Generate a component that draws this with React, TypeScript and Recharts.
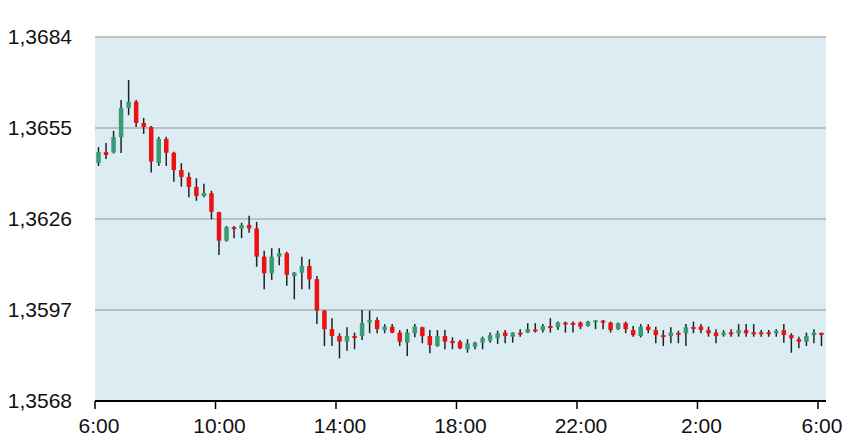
import { ComposedChart, Bar, XAxis, YAxis, CartesianGrid } from "recharts";

// 15-minute candles, 6:00 to 6:15 next day
const opens = [
  1.36438, 1.36473, 1.36472, 1.36521, 1.36614, 1.36634, 1.36566, 1.36553, 1.36438, 1.36515,
  1.36471, 1.36416, 1.36394, 1.36362, 1.36333, 1.36342, 1.36282, 1.36191, 1.36234, 1.3623,
  1.36241, 1.3623, 1.3614, 1.36087, 1.3614, 1.36151, 1.36078, 1.36089, 1.3611, 1.36068,
  1.35968, 1.35909, 1.35887, 1.35869, 1.35887, 1.35887, 1.3593, 1.35938, 1.35906, 1.35917,
  1.35898, 1.35866, 1.35896, 1.35915, 1.35887, 1.35855, 1.35887, 1.35871, 1.35869, 1.35845,
  1.35853, 1.35866, 1.35872, 1.3588, 1.35898, 1.35885, 1.35898, 1.35898, 1.35908, 1.35906,
  1.35919, 1.35915, 1.3593, 1.35929, 1.3593, 1.35919, 1.35934, 1.35936, 1.3593, 1.35909,
  1.35928, 1.35906, 1.35887, 1.35917, 1.35906, 1.3589, 1.35887, 1.35897, 1.35896, 1.35916,
  1.35917, 1.35906, 1.35898, 1.3589, 1.35899, 1.35896, 1.35906, 1.35899, 1.35899, 1.35899,
  1.35896, 1.35906, 1.3589, 1.35877, 1.35869, 1.3589, 1.35897,
];

const closes = [
  1.36473, 1.36464, 1.36521, 1.36614, 1.36634, 1.36566, 1.36553, 1.36443, 1.36515, 1.36471,
  1.36416, 1.36394, 1.36362, 1.36333, 1.36343, 1.36283, 1.36191, 1.36234, 1.3623, 1.36241,
  1.3623, 1.3614, 1.36087, 1.3614, 1.36151, 1.36082, 1.36089, 1.3611, 1.36068, 1.35968,
  1.35909, 1.35887, 1.35869, 1.35887, 1.35882, 1.35928, 1.35938, 1.35909, 1.35917, 1.35898,
  1.35869, 1.35898, 1.35917, 1.35887, 1.35858, 1.35887, 1.35869, 1.35868, 1.35848, 1.35864,
  1.35866, 1.3588, 1.3589, 1.35896, 1.35887, 1.35898, 1.35893, 1.35909, 1.35905, 1.35919,
  1.35916, 1.3593, 1.35925, 1.35925, 1.35917, 1.35933, 1.35937, 1.3593, 1.35906, 1.35928,
  1.35909, 1.3589, 1.35917, 1.35906, 1.3589, 1.35886, 1.35898, 1.35893, 1.35915, 1.35913,
  1.35906, 1.35896, 1.35887, 1.35898, 1.35896, 1.35906, 1.35896, 1.35895, 1.35895, 1.35895,
  1.35904, 1.3589, 1.3588, 1.35869, 1.35887, 1.35898, 1.35893,
];

const highs = [
  1.36489, 1.36502, 1.36541, 1.36639, 1.36703, 1.36639, 1.36582, 1.36556, 1.36522, 1.36522,
  1.36474, 1.36438, 1.36408, 1.3639, 1.36372, 1.3635, 1.36283, 1.36238, 1.36238, 1.36248,
  1.3627, 1.36251, 1.36159, 1.36167, 1.36167, 1.36156, 1.36091, 1.3614, 1.36132, 1.36078,
  1.3597, 1.35944, 1.35896, 1.35915, 1.35898, 1.3597, 1.35968, 1.35947, 1.35925, 1.35925,
  1.35906, 1.35909, 1.35925, 1.35917, 1.35906, 1.35906, 1.35906, 1.35883, 1.35874, 1.35877,
  1.35869, 1.35885, 1.35898, 1.35904, 1.35906, 1.35899, 1.35909, 1.35928, 1.35928, 1.35925,
  1.35944, 1.35933, 1.35933, 1.35933, 1.35933, 1.35936, 1.35938, 1.35938, 1.35933, 1.3593,
  1.35933, 1.35919, 1.35925, 1.35925, 1.35917, 1.35906, 1.35915, 1.35904, 1.35925, 1.35933,
  1.35925, 1.35917, 1.35909, 1.35906, 1.35909, 1.35925, 1.35925, 1.35925, 1.35906, 1.35906,
  1.35909, 1.35925, 1.35896, 1.35885, 1.35898, 1.35909, 1.35898,
];

const lows = [
  1.36429, 1.36451, 1.36469, 1.3647, 1.36591, 1.36553, 1.36531, 1.36408, 1.36429, 1.36429,
  1.36379, 1.36363, 1.36329, 1.36318, 1.36329, 1.36259, 1.36145, 1.36188, 1.36199, 1.36199,
  1.36216, 1.36108, 1.36036, 1.36066, 1.36113, 1.36047, 1.36004, 1.36036, 1.36036, 1.35925,
  1.35855, 1.35855, 1.35816, 1.3584, 1.35845, 1.35874, 1.35896, 1.35896, 1.35896, 1.35896,
  1.35855, 1.35823, 1.35883, 1.35864, 1.35832, 1.35853, 1.35845, 1.35845, 1.35845, 1.35834,
  1.35845, 1.35845, 1.35866, 1.35862, 1.35864, 1.35866, 1.35885, 1.35897, 1.35898, 1.35898,
  1.35898, 1.35906, 1.35898, 1.35898, 1.35909, 1.35917, 1.35909, 1.35909, 1.35898, 1.35906,
  1.35896, 1.35885, 1.35883, 1.35896, 1.35864, 1.35855, 1.35864, 1.35864, 1.35855, 1.35896,
  1.35896, 1.35885, 1.35864, 1.35885, 1.35885, 1.35885, 1.35885, 1.35885, 1.35885, 1.35885,
  1.35885, 1.35866, 1.35834, 1.35848, 1.35855, 1.35864, 1.35855,
];

const priceTicks = [1.3568, 1.3597, 1.3626, 1.3655, 1.3684];
// minutes after 6:00
const timeTicks = [0, 240, 480, 720, 960, 1200, 1440];

const UP = "#3a9a74";
const DOWN = "#ee1111";

const data = opens.map((open, i) => ({
  t: i * 15 + 7.5,
  open,
  close: closes[i],
  high: highs[i],
  low: lows[i],
  range: [lows[i], highs[i]],
}));

const Candle = (props: any) => {
  const { x, y, width, height, payload } = props;
  if (!payload) return null;
  const { open, close, high, low } = payload;
  const top = Math.min(y, y + height);
  const h = Math.abs(height);
  const px = (v: number) => top + ((high - v) / (high - low)) * h;
  const cx = x + width / 2;
  const bTop = px(Math.max(open, close));
  const bBot = px(Math.min(open, close));
  const bh = Math.max(bBot - bTop, 2);
  return (
    <g>
      <line x1={cx} x2={cx} y1={top} y2={top + h} stroke="#222" strokeWidth={1.5} />
      <rect x={cx - 2.25} y={bTop} width={4.5} height={bh} fill={close >= open ? UP : DOWN} />
    </g>
  );
};

const fontFamily = "'Liberation Sans', Arial, sans-serif";

export default function App() {
  return (
    <div style={{ position: "absolute", left: 0, top: 0, fontFamily }}>
      <ComposedChart
        width={856}
        height={445}
        data={data}
        margin={{ top: 37, right: 30, bottom: 0, left: 0 }}
      >
        <CartesianGrid vertical={false} stroke="#b0b0b0" strokeWidth={1.5} fill="#dbecf2" />
        <XAxis
          dataKey="t"
          type="number"
          domain={[0, 1456]}
          ticks={timeTicks}
          tickFormatter={(m: number) => `${(6 + m / 60) % 24}:00`}
          height={44}
          axisLine={{ stroke: "#000", strokeWidth: 2 }}
          tickLine={{ stroke: "#000", strokeWidth: 1.5 }}
          tickSize={8}
          tickMargin={9}
          tick={{ fontSize: 21, fill: "#111", fontFamily, dx: 4 }}
        />
        <YAxis
          type="number"
          domain={[1.3568, 1.3684]}
          ticks={priceTicks}
          tickFormatter={(v: number) => v.toFixed(4).replace(".", ",")}
          width={95}
          axisLine={false}
          tickLine={false}
          tickMargin={17}
          tick={{ fontSize: 21, fill: "#111", fontFamily }}
        />
        <Bar dataKey="range" barSize={5} shape={Candle} isAnimationActive={false} />
      </ComposedChart>
    </div>
  );
}
